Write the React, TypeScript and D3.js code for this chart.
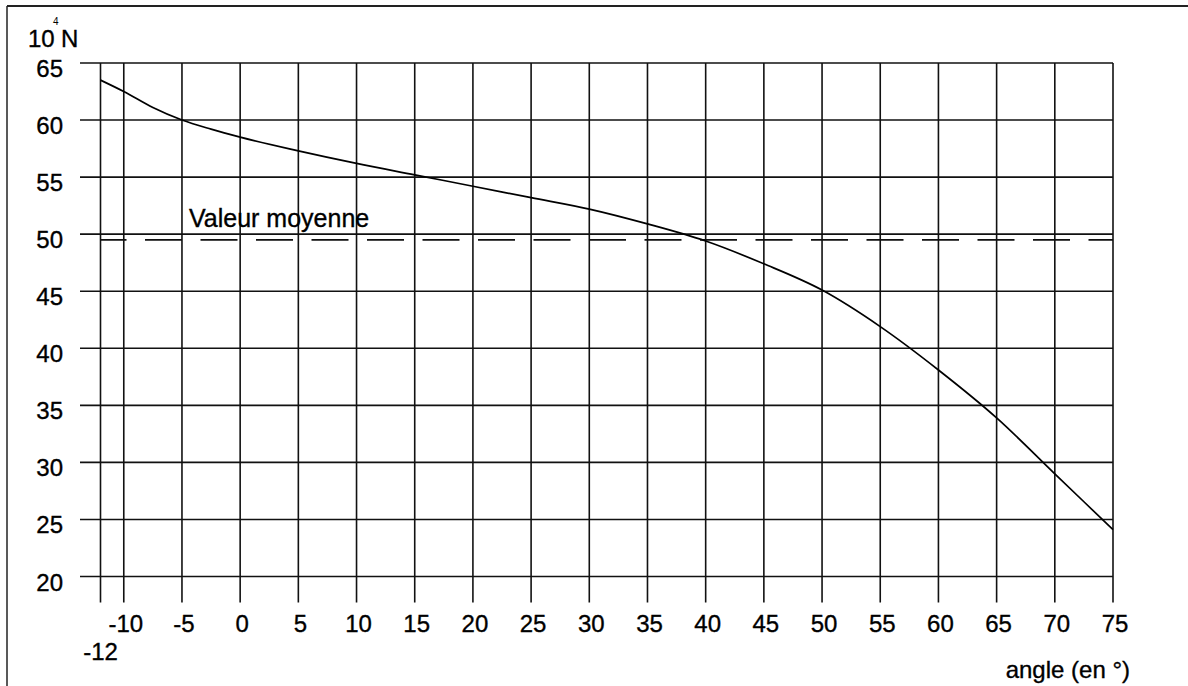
import React from "react";
import * as d3 from "d3";

const angles = [-12, -10, -7.5, -5, -2.5, 0, 5, 10, 15, 20, 25, 30, 35, 40, 45, 50, 55, 60, 65, 70, 75];
const forces = [63.5, 62.5, 61.1, 60.0, 59.2, 58.5, 57.3, 56.2, 55.2, 54.2, 53.2, 52.2, 50.9, 49.4, 47.4, 45.1, 41.9, 38.1, 33.9, 29.0, 24.1];
const meanValue = 49.5;
const xTicks = [-10, -5, 0, 5, 10, 15, 20, 25, 30, 35, 40, 45, 50, 55, 60, 65, 70, 75];
const yTicks = [20, 25, 30, 35, 40, 45, 50, 55, 60, 65];
const xMin = -12;
const xMax = 75;

const FONT = "Arial, 'Liberation Sans', sans-serif";

export default function App() {
  const x = d3.scaleLinear().domain([xMin, xMax]).range([100.5, 1113]);
  const y = d3.scaleLinear().domain([20, 65]).range([576.5, 63]);
  const line = d3
    .line<number>()
    .x((_, i) => x(angles[i]))
    .y((d) => y(d))
    .curve(d3.curveMonotoneX);

  const gridStroke = "#111";
  const vBottom = y(20) + 26;
  const textStyle = { stroke: "#000", strokeWidth: 0.35 } as const;

  return (
    <svg
      width={1188}
      height={686}
      style={{ position: "absolute", left: 0, top: 0, background: "#fff" }}
      fontFamily={FONT}
    >
      <rect x={0} y={0} width={1188} height={686} fill="#fff" />
      {/* frame */}
      <line x1={7} y1={6} x2={1188} y2={6} stroke="#222" strokeWidth={1.8} />
      <line x1={7} y1={6} x2={7} y2={686} stroke="#222" strokeWidth={1.5} />

      {/* horizontal grid */}
      {yTicks.map((t) => (
        <line key={"h" + t} x1={80} x2={x(xMax)} y1={y(t)} y2={y(t)} stroke={gridStroke} strokeWidth={1.6} />
      ))}
      {/* vertical grid */}
      {[xMin, ...xTicks].map((t) => (
        <line key={"v" + t} x1={x(t)} x2={x(t)} y1={y(65)} y2={vBottom} stroke={gridStroke} strokeWidth={1.6} />
      ))}

      {/* mean dashed line */}
      <line
        x1={x(xMin)}
        x2={x(xMax)}
        y1={y(meanValue)}
        y2={y(meanValue)}
        stroke="#111"
        strokeWidth={1.6}
        strokeDasharray="37 18.5"
        strokeDashoffset={11}
      />
      <text x={189} y={227} fontSize={25} fill="#000" style={textStyle}>Valeur moyenne</text>

      {/* curve */}
      <path d={line(forces) || ""} fill="none" stroke="#000" strokeWidth={1.7} />

      {/* y labels */}
      {yTicks.map((t) => (
        <text key={"yl" + t} x={63} y={y(t) + 14} fontSize={24} textAnchor="end" fill="#000" style={textStyle}>
          {t}
        </text>
      ))}
      {/* x labels */}
      {xTicks.map((t) => (
        <text key={"xl" + t} x={x(t) + 2} y={632} fontSize={24} textAnchor="middle" fill="#000" style={textStyle}>
          {t}
        </text>
      ))}
      <text x={x(xMin)} y={660} fontSize={24} textAnchor="middle" fill="#000" style={textStyle}>{xMin}</text>
      <text x={1130} y={678} fontSize={24} textAnchor="end" fill="#000" style={textStyle}>angle (en °)</text>

      {/* unit */}
      <text x={28} y={47} fontSize={24} fill="#000" style={textStyle}>10</text>
      <text x={53} y={25} fontSize={10} fill="#000">4</text>
      <text x={61} y={47} fontSize={24} fill="#000" style={textStyle}>N</text>
    </svg>
  );
}
